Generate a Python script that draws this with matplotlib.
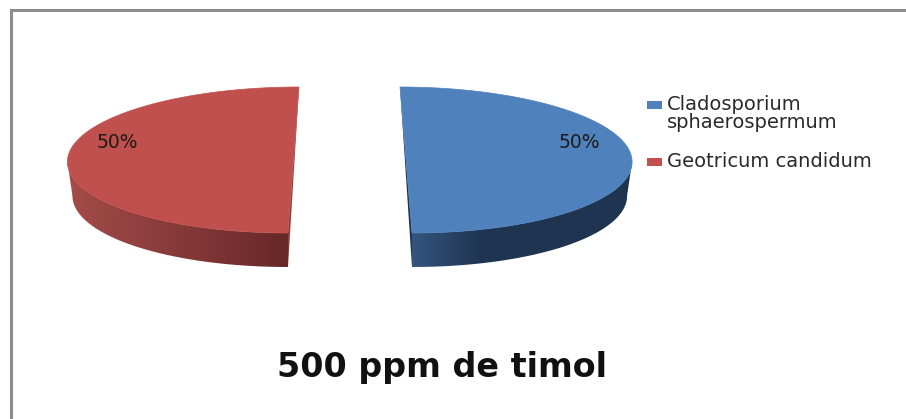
import numpy as np
import matplotlib
matplotlib.use('Agg')
import matplotlib.pyplot as plt
from matplotlib.patches import Polygon, Rectangle

plt.rcParams['font.family'] = ['DejaVu Sans']

labels = ['Cladosporium\nsphaerospermum', 'Geotricum candidum']
values = [50, 50]
pct_labels = ['50%', '50%']
title = '500 ppm de timol'

top_colors = ['#4f81bd', '#c0504d']
side_left = ['#34557f', '#a44c49']
side_right = ['#1f3450', '#672828']
cut_colors = ['#1f3450', '#8e3d3b']

fig = plt.figure(figsize=(9.06, 4.19), dpi=100)
ax = fig.add_axes([0, 0, 1, 1])
ax.set_xlim(0, 906)
ax.set_ylim(419, 0)
ax.axis('off')

# chart frame, only top and left show
ax.plot([10.5, 10.5, 906], [419, 10.5, 10.5], color='#8c8c8c', lw=2.2, solid_joinstyle='miter')

depth = 34
shrink = 5  # bottom rim is a bit narrower than the top one

def half_pie(value, total, top_x, apex_x, rx, sign):
    # half ellipse with the straight edge leaning a bit, as in the exploded 3d pie
    sweep = value / total * 2 * np.pi
    t = np.linspace(0, sweep, 200)
    cy = 160
    ry = 73
    lean = (1 - np.cos(t)) / 2
    x = top_x + (apex_x - top_x) * lean + sign * rx * np.sin(t)
    y = cy - ry * np.cos(t)
    return x, y

total = sum(values)
geo = [(400, 412, 226, 1), (299, 288, 226, -1)]

for i, (top_x, apex_x, rx, sign) in enumerate(geo):
    x, y = half_pie(values[i], total, top_x, apex_x, rx, sign)
    xb, yb = half_pie(values[i], total, top_x, apex_x, rx - shrink, sign)
    outer = x.argmax() if sign > 0 else x.argmin()
    # visible side wall is the lower part of the arc
    wall = np.column_stack([np.r_[x[outer:], xb[outer:][::-1]], np.r_[y[outer:], yb[outer:][::-1] + depth]])
    x0, x1 = wall[:, 0].min(), wall[:, 0].max()
    y0, y1 = wall[:, 1].min(), wall[:, 1].max()
    if sign > 0:
        # blue wall goes dark fast from the apex side
        stops = [apex_x, apex_x + 70, x1]
        cols = [side_left[i], side_right[i], side_right[i]]
    else:
        stops = [x0, apex_x]
        cols = [side_left[i], side_right[i]]
    rgb = np.array([matplotlib.colors.to_rgb(c) for c in cols])
    grid = np.linspace(x0, x1, 256)
    grad = np.stack([np.interp(grid, stops, rgb[:, k]) for k in range(3)], axis=-1)[None, :, :]
    im = ax.imshow(grad, extent=[x0, x1, y1, y0], aspect='auto', zorder=2, interpolation='bilinear')
    im.set_clip_path(Polygon(wall, closed=True, transform=ax.transData))
    ax.add_patch(Polygon(np.column_stack([x, y]), closed=True, fc=top_colors[i], ec=top_colors[i], lw=0.5, zorder=3))
    # thin cut face along the straight edge
    ax.add_patch(Polygon([(top_x, y[0]), (apex_x, y[-1] + depth), (apex_x, y[-1])], closed=True,
                         fc=cut_colors[i], ec='none', zorder=2.5))

ax.set_xlim(0, 906)
ax.set_ylim(419, 0)

pct_pos = [(579.5, 142), (117.5, 142)]
for s, (px, py) in zip(pct_labels, pct_pos):
    ax.text(px, py, s, fontsize=13.5, color='#1c1c1c', ha='center', va='center', zorder=5)

# legend
leg_y = [104, 161]
for i, s in enumerate(labels):
    ax.add_patch(Rectangle((647, leg_y[i] - 3.5), 15, 8, fc=top_colors[i], ec='none'))
    ax.text(667, leg_y[i] - 9.5, s, fontsize=14, color='#2a2a2a', va='top', ha='left', linespacing=1.0)

ax.text(442, 367, title, fontsize=24, fontweight='bold', color='#111111', ha='center', va='center')

fig.savefig('out.png', dpi=100)
